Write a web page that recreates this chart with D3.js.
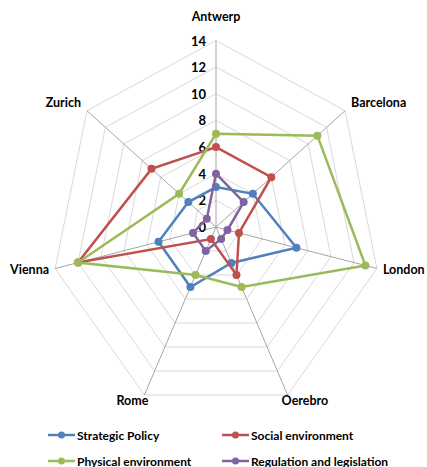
<!DOCTYPE html>
<html>
<head>
<meta charset="utf-8">
<script src="https://cdn.jsdelivr.net/npm/d3@7.9.0/dist/d3.min.js"></script>
<style>
  body { margin: 0; background: #fff; }
  svg text { font-family: Lato, "Open Sans", sans-serif; font-weight: bold; fill: #000; }
</style>
</head>
<body>
<svg width="427" height="467"></svg>
<script>
const cities = ['Antwerp', 'Barcelona', 'London', 'Oerebro', 'Rome', 'Vienna', 'Zurich'];
const ticks = [0, 2, 4, 6, 8, 10, 12, 14];

const strategicPolicy = [3, 4, 7, 3, 5, 5, 3];
const socialEnvironment = [6, 6, 2, 4, 1, 12, 7];
const physicalEnvironment = [7, 11, 13, 5, 4, 12, 4];
const regulationLegislation = [4, 3, 1, 1, 2, 2, 1];

const seriesNames = ['Strategic Policy', 'Social environment', 'Physical environment', 'Regulation and legislation'];
const seriesValues = [strategicPolicy, socialEnvironment, physicalEnvironment, regulationLegislation];
const colors = ['#4f81bd', '#c0504d', '#9bbb59', '#8064a2'];

const svg = d3.select('svg');
const cx = 216, cy = 227;
const xStretch = 0.885; // the original is a bit narrower than tall

let r = d3.scaleLinear().domain([0, 14]).range([0, 186.5]);
let angle = d3.scalePoint().domain(cities).range([0, 2 * Math.PI * 6 / 7]);

function pos(city, v) {
    let a = angle(city);
    return [cx + xStretch * r(v) * Math.sin(a), cy - r(v) * Math.cos(a)];
}

// grid rings
let grid = svg.append('g');
ticks.filter(t => t > 0).forEach(t => {
    grid.append('polygon')
        .attr('points', cities.map(c => pos(c, t).join(',')).join(' '))
        .attr('fill', 'none')
        .attr('stroke', '#d9d9d9')
        .attr('stroke-width', 1);
});

// spokes
cities.forEach(c => {
    let [x, y] = pos(c, 14);
    grid.append('line')
        .attr('x1', cx).attr('y1', cy)
        .attr('x2', x).attr('y2', y)
        .attr('stroke', '#a6a6a6')
        .attr('stroke-width', 1);
});

// tick labels
ticks.forEach(t => {
    svg.append('text')
        .attr('x', cx - 10)
        .attr('y', cy - r(t) + 5)
        .attr('text-anchor', 'end')
        .attr('font-size', 13)
        .text(t);
});

// city labels
const labelPos = {
    Antwerp: [0, -20, 'middle'],
    Barcelona: [6, -4, 'start'],
    London: [6, 5, 'start'],
    Oerebro: [-6, 10, 'start'],
    Rome: [4, 10, 'end'],
    Vienna: [-6, 5, 'end'],
    Zurich: [-6, -4, 'end']
};
cities.forEach(c => {
    let [x, y] = pos(c, 14);
    let [dx, dy, anchor] = labelPos[c];
    svg.append('text')
        .attr('x', x + dx)
        .attr('y', y + dy)
        .attr('text-anchor', anchor)
        .attr('font-size', 12.5)
        .text(c);
});

// series
let line = d3.line().curve(d3.curveLinearClosed);
seriesValues.forEach((vals, i) => {
    let pts = cities.map((c, j) => pos(c, vals[j]));
    svg.append('path')
        .attr('d', line(pts))
        .attr('fill', 'none')
        .attr('stroke', colors[i])
        .attr('stroke-width', 2.5);
    svg.append('g').selectAll('circle')
        .data(pts)
        .join('circle')
        .attr('cx', d => d[0])
        .attr('cy', d => d[1])
        .attr('r', 4)
        .attr('fill', colors[i]);
});

// legend
const legendX = [48, 222];
const legendY = [435, 461];
seriesNames.forEach((name, i) => {
    let x = legendX[i % 2], y = legendY[Math.floor(i / 2)];
    let g = svg.append('g').attr('transform', `translate(${x},${y})`);
    g.append('line')
        .attr('x1', 0).attr('x2', 27)
        .attr('y1', 0).attr('y2', 0)
        .attr('stroke', colors[i])
        .attr('stroke-width', 2.5);
    g.append('circle')
        .attr('cx', 13.5).attr('cy', 0).attr('r', 3.5)
        .attr('fill', colors[i]);
    g.append('text')
        .attr('x', 29)
        .attr('y', 4.5)
        .attr('font-size', 12)
        .text(name);
});
</script>
</body>
</html>
